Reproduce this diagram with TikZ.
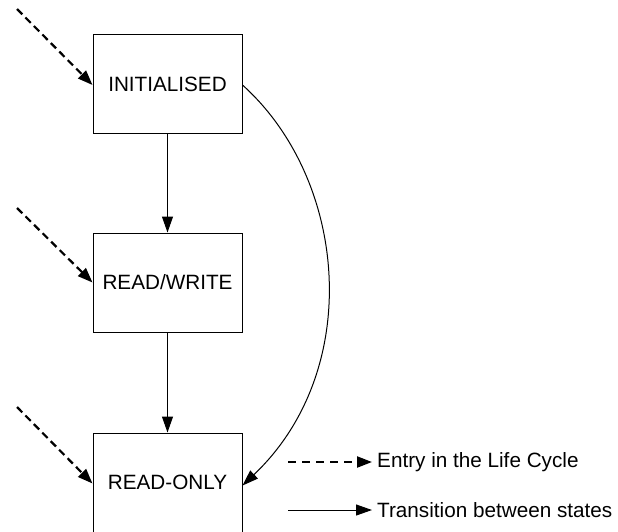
\documentclass[tikz,border=0pt]{standalone}
\usepackage{fontspec}
\setmainfont{Liberation Sans}
\usetikzlibrary{arrows.meta}
\begin{document}
\begin{tikzpicture}[x=1pt,y=-1pt,
  state/.style={draw,line width=1pt,minimum width=149pt,minimum height=99pt,inner sep=0pt,font=\fontsize{20.7}{24}\selectfont},
  lbl/.style={anchor=west,inner sep=0pt,font=\fontsize{20.7}{24}\selectfont},
  trans/.style={line width=1pt,-{Triangle[length=16pt,width=11pt]}},
  entry/.style={line width=2.2pt,dash pattern=on 7.5pt off 4.5pt,-{Triangle[length=15pt,width=11pt]}},
  legentry/.style={entry,dash pattern=on 8pt off 6pt}]
\useasboundingbox (0,0) rectangle (618,531);
\clip (0,0) rectangle (618,531);
\node[state] (init) at (167.5,84) {INITIALISED};
\node[state] (rw) at (167.5,282.5) {READ/WRITE};
\node[state] (ro) at (167.5,482.5) {READ-ONLY};
\coordinate (e1) at (17,9);
\coordinate (e2) at (17,208);
\coordinate (e3) at (17,407);
\draw[entry] (e1) -- ([yshift=-1pt]init.west);
\draw[entry] (e2) -- (rw.west);
\draw[entry] (e3) -- ([yshift=-1pt]ro.west);
\draw[trans] (init) -- (rw);
\draw[trans] (rw) -- (ro);
\draw[trans] ([yshift=-1pt]init.east) .. controls (348,180) and (364,370) .. ([yshift=-3pt]ro.east);
\coordinate (l1a) at (288,462);
\coordinate (l1b) at (372,462);
\coordinate (l2a) at (288,510);
\coordinate (l2b) at (372,510);
\draw[legentry] (l1a) -- (l1b);
\draw[trans] (l2a) -- (l2b);
\node[lbl] (t1) at (377,462) {Entry in the Life Cycle};
\node[lbl] (t2) at (377,510) {Transition between states};
\end{tikzpicture}
\end{document}
